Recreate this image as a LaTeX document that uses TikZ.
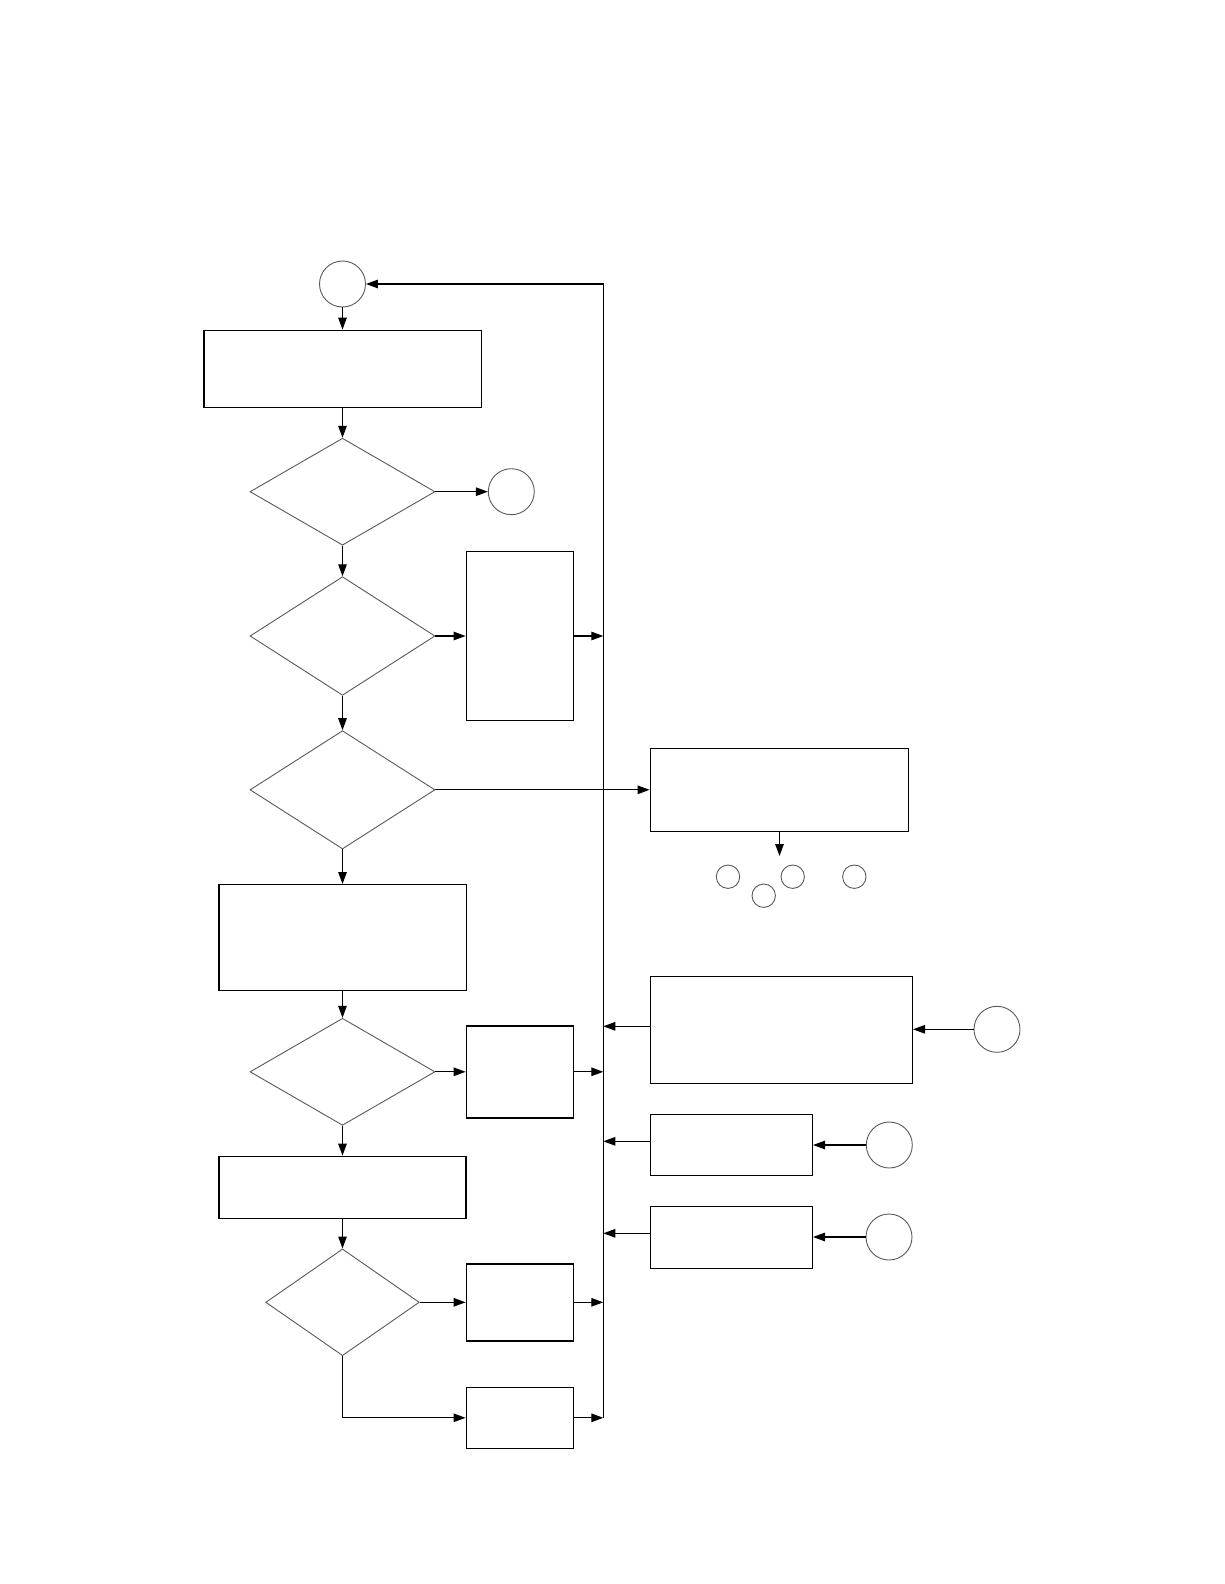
\documentclass[tikz,border=0pt]{standalone}
\usetikzlibrary{shapes.geometric,arrows.meta}
\begin{document}
\begin{tikzpicture}[x=1pt,y=-1pt,
  boxst/.style={draw=black,line width=1.4pt,rectangle,inner sep=0pt},
  decst/.style={draw=black!65,line width=0.9pt,diamond,inner sep=0pt},
  circst/.style={draw=black!65,line width=0.9pt,circle,inner sep=0pt},
  arr/.style={line width=1.3pt,-{Triangle[length=12pt,width=8.5pt]}},
  plain/.style={line width=1.3pt}]
\useasboundingbox (0,0) rectangle (1224,1584);
% start and left column
\node[circst,minimum size=46pt] (c0) at (342.5,284) {};
\node[boxst,minimum width=277.4pt,minimum height=77pt] (b1) at (342.5,368.8) {};
\node[decst,minimum width=185pt,minimum height=107pt] (d1) at (342.5,491.7) {};
\node[circst,minimum size=46pt] (c1) at (511.3,491.7) {};
\node[decst,minimum width=185pt,minimum height=118.6pt] (d2) at (342.5,636) {};
\node[boxst,minimum width=107.4pt,minimum height=169pt] (b2) at (520,636) {};
\node[decst,minimum width=185pt,minimum height=118.3pt] (d3) at (342.5,789.8) {};
\node[boxst,minimum width=258.4pt,minimum height=83pt] (b3) at (779.5,789.8) {};
\coordinate (b3end) at (779.5,856);
\node[circst,minimum size=23.4pt] (s1) at (728,876.7) {};
\node[circst,minimum size=23.4pt] (s2) at (792.7,876.7) {};
\node[circst,minimum size=23.4pt] (s3) at (854.3,876.7) {};
\node[circst,minimum size=23.4pt] (s4) at (763.7,895.7) {};
\node[boxst,minimum width=247.4pt,minimum height=106pt] (b4) at (342.5,937.7) {};
\node[decst,minimum width=185pt,minimum height=107pt] (d4) at (342.5,1071.8) {};
\node[boxst,minimum width=107.4pt,minimum height=92pt] (b6) at (520,1071.8) {};
\node[boxst,minimum width=247pt,minimum height=62pt] (b5) at (342.5,1187.3) {};
\node[decst,minimum width=153.6pt,minimum height=106.7pt] (d5) at (342.5,1302.3) {};
\node[boxst,minimum width=107.4pt,minimum height=77pt] (b7) at (520,1302.3) {};
\node[boxst,minimum width=107.4pt,minimum height=61pt] (b8) at (520,1417.8) {};
% right column
\node[boxst,minimum width=262pt,minimum height=107pt] (b9) at (781.3,1029.8) {};
\node[circst,minimum size=46pt] (c9) at (997,1029.3) {};
\node[boxst,minimum width=162pt,minimum height=61pt] (b10) at (731.3,1144.8) {};
\node[circst,minimum size=46pt] (c10) at (889.3,1145) {};
\node[boxst,minimum width=162pt,minimum height=62pt] (b11) at (731.3,1237.3) {};
\node[circst,minimum size=46pt] (c11) at (889,1237) {};
% bus
\coordinate (bt) at (603.3,284);
\coordinate (bb) at (603.3,1417.8);
\draw[arr] (bb) -- (bt) -- (c0.east);
% main chain
\draw[arr] (c0.south) -- (b1.north);
\draw[arr] (b1.south) -- (d1.north);
\draw[arr] (d1.east) -- (c1.west);
\draw[arr] (d1.south) -- (d2.north);
\draw[arr] (d2.east) -- (b2.west);
\draw[arr] (b2.east) -- (b2.east -| bt);
\draw[arr] (d2.south) -- (d3.north);
\draw[arr] (d3.east) -- (b3.west);
\draw[arr] (b3.south) -- (b3end);
\draw[arr] (d3.south) -- (b4.north);
\draw[arr] (b4.south) -- (d4.north);
\draw[arr] (d4.east) -- (b6.west);
\draw[arr] (b6.east) -- (b6.east -| bt);
\draw[arr] (d4.south) -- (b5.north);
\draw[arr] (b5.south) -- (d5.north);
\draw[arr] (d5.east) -- (b7.west);
\draw[arr] (b7.east) -- (b7.east -| bt);
\draw[arr] (d5.south) |- (b8.west);
\draw[arr] (b8.east) -- (bb);
% right side inputs
\draw[arr] ([yshift=3.5pt]b9.west) -- ([yshift=3.5pt]b9.west -| bt);
\draw[arr] (c9.west) -- (c9.west -| b9.east);
\draw[arr] ([yshift=3.5pt]b10.west) -- ([yshift=3.5pt]b10.west -| bt);
\draw[arr] (c10.west) -- (c10.west -| b10.east);
\draw[arr] ([yshift=4pt]b11.west) -- ([yshift=4pt]b11.west -| bt);
\draw[arr] (c11.west) -- (c11.west -| b11.east);
\end{tikzpicture}
\end{document}
